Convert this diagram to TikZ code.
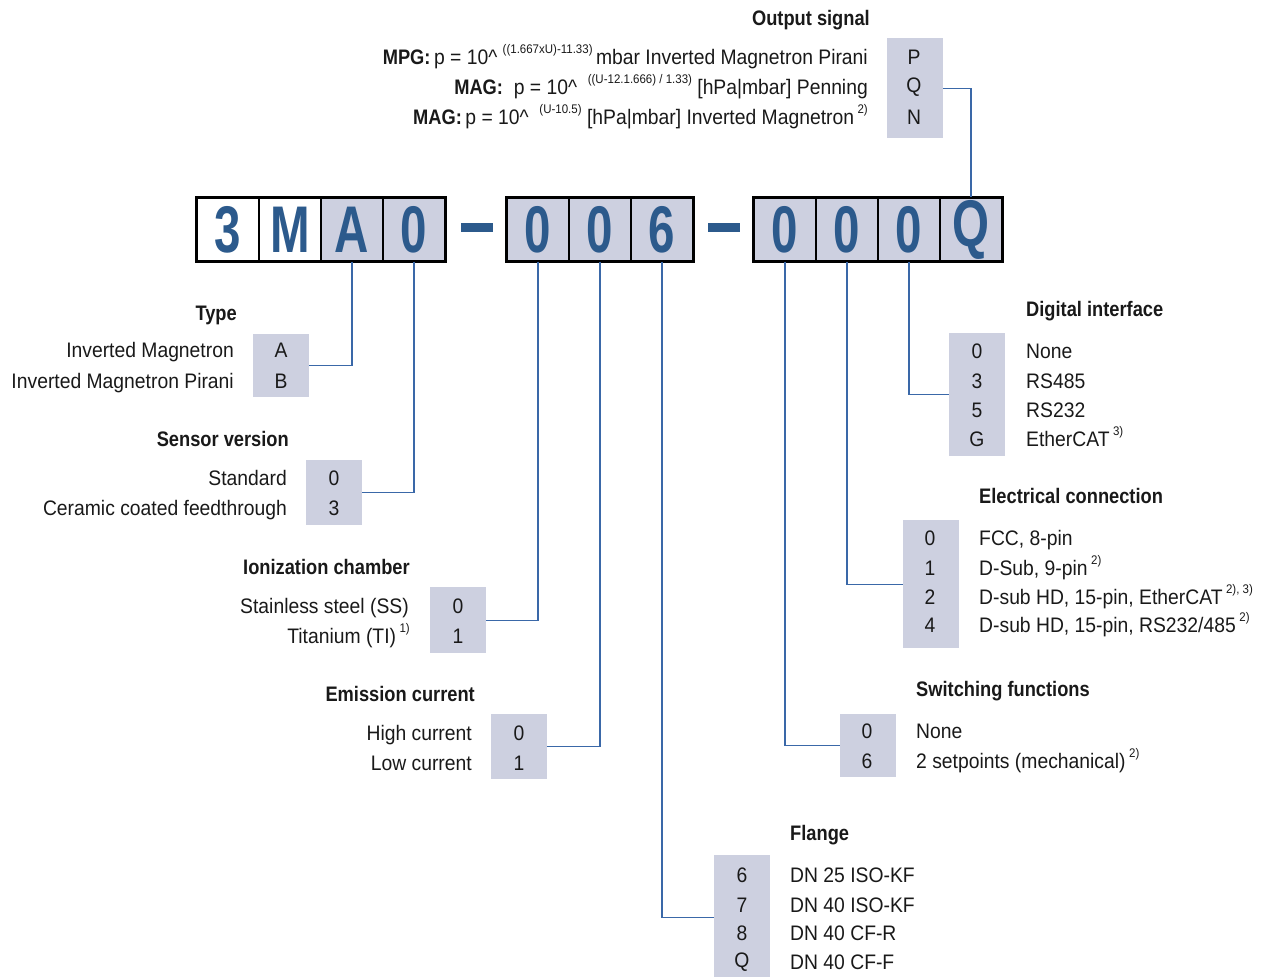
\documentclass[tikz,border=0pt]{standalone}
\usepackage{fontspec}
\setmainfont{Liberation Sans}[FakeStretch=0.92]
\newfontfamily\ttlfont{Liberation Sans}[FakeStretch=0.87]
\newfontfamily\codefont{Liberation Sans}[FakeStretch=0.72]
\definecolor{optgray}{HTML}{CDD0E0}
\definecolor{codeblue}{HTML}{2C5A8C}
\definecolor{linkblue}{HTML}{3A68A8}
\newcommand{\sups}[1]{\raisebox{0.5em}{\fontsize{12.5}{12.5}\selectfont #1}}
\newcommand{\caret}{\textasciicircum}
\newcommand{\bl}[1]{{\ttlfont\bfseries #1}}
\begin{document}
\begin{tikzpicture}[x=1pt,y=-1pt,
  optbox/.style={fill=optgray, draw=none, minimum width=56pt, inner sep=0pt, anchor=north west},
  lbl/.style={font=\fontsize{21}{24}\selectfont, inner sep=0pt, text=black!90},
  ttl/.style={font=\fontsize{21}{24}\selectfont\ttlfont\bfseries, inner sep=0pt, text=black!90},
  cell/.style={draw=black, line width=1.2pt, minimum width=62pt, minimum height=63pt, inner sep=0pt,
     text=codeblue, font=\codefont\bfseries\fontsize{66}{66}\selectfont},
  gcell/.style={cell, fill=optgray},
  wcell/.style={cell, fill=white},
  frame/.style={draw=black, line width=2.6pt},
  dashbar/.style={fill=codeblue, minimum width=32pt, minimum height=9pt, inner sep=0pt},
  conn/.style={draw=linkblue, line width=1.1pt}
]
\useasboundingbox (0,0) rectangle (1267,977);

% ---------- code cells ----------
\node[wcell] (c1) at (228,229.5) {3};
\node[wcell] (c2) at (290,229.5) {M};
\node[gcell] (c3) at (352,229.5) {A};
\node[gcell] (c4) at (414,229.5) {0};
\node[gcell] (c5) at (538,229.5) {0};
\node[gcell] (c6) at (600,229.5) {0};
\node[gcell] (c7) at (662,229.5) {6};
\node[gcell] (c8) at (785,229.5) {0};
\node[gcell] (c9) at (847,229.5) {0};
\node[gcell] (c10) at (909,229.5) {0};
\node[gcell] (c11) at (971,229.5) {Q};
\draw[frame] (c1.north west) rectangle (c4.south east);
\draw[frame] (c5.north west) rectangle (c7.south east);
\draw[frame] (c8.north west) rectangle (c11.south east);
\node[dashbar] (d1) at (477,227) {};
\node[dashbar] (d2) at (724,227) {};

% ---------- option boxes ----------
\node[optbox, minimum height=100pt] (outbox) at (887,38) {};
\node[optbox, minimum height=63pt] (typebox) at (253,334) {};
\node[optbox, minimum height=65pt] (sensbox) at (306,460) {};
\node[optbox, minimum height=66pt] (ionbox) at (430,587) {};
\node[optbox, minimum height=65pt] (emibox) at (491,714) {};
\node[optbox, minimum height=124pt] (flabox) at (714,855) {};
\node[optbox, minimum height=63pt] (swbox) at (840,714) {};
\node[optbox, minimum height=128pt] (elbox) at (903,520) {};
\node[optbox, minimum height=123pt] (digbox) at (949,333) {};

% ---------- connectors ----------
\draw[conn] (c11.north) |- (outbox.east);
\draw[conn] (c3.south) |- (typebox.east);
\draw[conn] (c4.south) |- (sensbox.east);
\draw[conn] (c5.south) |- (ionbox.east);
\draw[conn] (c6.south) |- (emibox.east);
\draw[conn] (c7.south) |- (flabox.west);
\draw[conn] (c8.south) |- (swbox.west);
\draw[conn] (c9.south) |- (elbox.west);
\draw[conn] (c10.south) |- (digbox.west);

% ---------- Output signal ----------
\node[ttl, anchor=base east] (t-out) at (870,25) {Output signal};
\node[lbl, anchor=base east] (o1) at (868,64) {\bl{MPG:}\,p = 10\caret\ \sups{((1.667xU)-11.33)}\,mbar Inverted Magnetron Pirani};
\node[lbl, anchor=base east] (o2) at (868,94) {\bl{MAG:}~ p = 10\caret\ \ \sups{((U-12.1.666) / 1.33)} [hPa|mbar] Penning};
\node[lbl, anchor=base east] (o3) at (868,124) {\bl{MAG:}\,p = 10\caret\ \ \sups{(U-10.5)} [hPa|mbar] Inverted Magnetron\,\sups{2)}};
\node[lbl] (ov1) at (914,57) {P};
\node[lbl] (ov2) at (914,87) {Q};
\node[lbl] (ov3) at (914,117) {N};

% ---------- Type ----------
\node[ttl, anchor=base east] (t-type) at (237,320) {Type};
\node[lbl, anchor=base east] (ty1) at (234,357) {Inverted Magnetron};
\node[lbl, anchor=base east] (ty2) at (234,388) {Inverted Magnetron Pirani};
\node[lbl] (tv1) at (281,350) {A};
\node[lbl] (tv2) at (281,381) {B};

% ---------- Sensor version ----------
\node[ttl, anchor=base east] (t-sens) at (289,446) {Sensor version};
\node[lbl, anchor=base east] (s1) at (287,485) {Standard};
\node[lbl, anchor=base east] (s2) at (287,515) {Ceramic coated feedthrough};
\node[lbl] (sv1) at (334,478) {0};
\node[lbl] (sv2) at (334,508) {3};

% ---------- Ionization chamber ----------
\node[ttl, anchor=base west] (t-ion) at (243,574) {Ionization chamber};
\node[lbl, anchor=base east] (i1) at (409,613) {Stainless steel (SS)};
\node[lbl, anchor=base east] (i2) at (410,643) {Titanium (TI)\,\sups{1)}};
\node[lbl] (iv1) at (458,606) {0};
\node[lbl] (iv2) at (458,636) {1};

% ---------- Emission current ----------
\node[ttl, anchor=base east] (t-emi) at (475,701) {Emission current};
\node[lbl, anchor=base east] (e1) at (472,740) {High current};
\node[lbl, anchor=base east] (e2) at (472,770) {Low current};
\node[lbl] (ev1) at (519,733) {0};
\node[lbl] (ev2) at (519,763) {1};

% ---------- Flange ----------
\node[ttl, anchor=base west] (t-fla) at (790,840) {Flange};
\node[lbl, anchor=base west] (f1) at (790,882) {DN 25 ISO-KF};
\node[lbl, anchor=base west] (f2) at (790,912) {DN 40 ISO-KF};
\node[lbl, anchor=base west] (f3) at (790,940) {DN 40 CF-R};
\node[lbl, anchor=base west] (f4) at (790,969) {DN 40 CF-F};
\node[lbl] (fv1) at (742,875) {6};
\node[lbl] (fv2) at (742,905) {7};
\node[lbl] (fv3) at (742,933) {8};
\node[lbl] (fv4) at (742,962) {Q};

% ---------- Switching functions ----------
\node[ttl, anchor=base west] (t-sw) at (916,696) {Switching functions};
\node[lbl, anchor=base west] (w1) at (916,738) {None};
\node[lbl, anchor=base west] (w2) at (916,768) {2 setpoints (mechanical)\,\sups{2)}};
\node[lbl] (wv1) at (867,731) {0};
\node[lbl] (wv2) at (867,761) {6};

% ---------- Electrical connection ----------
\node[ttl, anchor=base west] (t-el) at (979,503) {Electrical connection};
\node[lbl, anchor=base west] (l1) at (979,545) {FCC, 8-pin};
\node[lbl, anchor=base west] (l2) at (979,575) {D-Sub, 9-pin\,\sups{2)}};
\node[lbl, anchor=base west] (l3) at (979,604) {D-sub HD, 15-pin, EtherCAT\,\sups{2), 3)}};
\node[lbl, anchor=base west] (l4) at (979,632) {D-sub HD, 15-pin, RS232/485\,\sups{2)}};
\node[lbl] (lv1) at (930,538) {0};
\node[lbl] (lv2) at (930,568) {1};
\node[lbl] (lv3) at (930,597) {2};
\node[lbl] (lv4) at (930,625) {4};

% ---------- Digital interface ----------
\node[ttl, anchor=base west] (t-dig) at (1026,316) {Digital interface};
\node[lbl, anchor=base west] (g1) at (1026,358) {None};
\node[lbl, anchor=base west] (g2) at (1026,388) {RS485};
\node[lbl, anchor=base west] (g3) at (1026,417) {RS232};
\node[lbl, anchor=base west] (g4) at (1026,446) {EtherCAT\,\sups{3)}};
\node[lbl] (gv1) at (977,351) {0};
\node[lbl] (gv2) at (977,381) {3};
\node[lbl] (gv3) at (977,410) {5};
\node[lbl] (gv4) at (977,439) {G};
\end{tikzpicture}
\end{document}
